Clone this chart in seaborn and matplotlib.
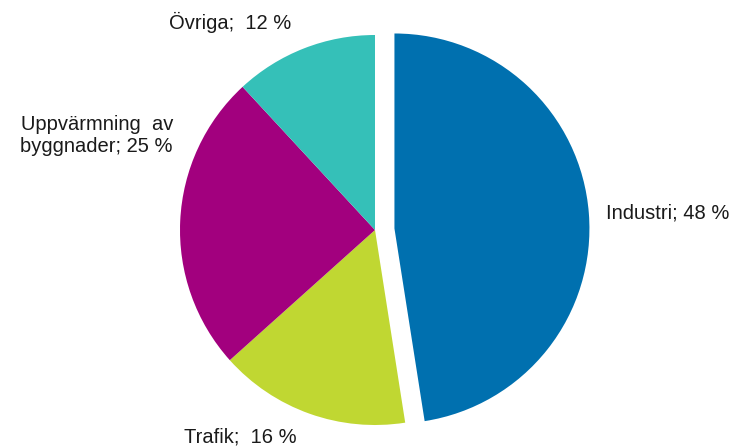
import matplotlib
matplotlib.use("Agg")
import matplotlib.pyplot as plt
import seaborn as sns

# ------------------------------------------
# Data
# ------------------------------------------

categories = ["Industri", "Trafik", "Uppvärmning  av\nbyggnader", "Övriga"]
shares = [48, 16, 25, 12]
colors = ["#0070AF", "#C0D732", "#A2007E", "#35C0B8"]
explode = [0.1, 0, 0, 0]

# gap after the semicolon, as in the original labels
label_gap = [" ", "  ", " ", "  "]

# label positions (pixel coords in the 740x448 image) and alignment
label_px = [(606, 213), (184, 437), (173, 136), (230, 22)]
label_ha = ["left", "left", "right", "center"]

# ------------------------------------------
# Plot
# ------------------------------------------

sns.set_theme(style="white")
plt.rcParams["font.family"] = ["Liberation Sans", "DejaVu Sans"]

fig = plt.figure(figsize=(7.4, 4.48), dpi=100)
ax = fig.add_axes([0, 0, 1, 1])

cx, cy, r = 375, 230, 195

ax.pie(
    shares,
    colors=colors,
    explode=explode,
    startangle=90,
    counterclock=False,
    wedgeprops=dict(linewidth=0)
)

ax.set_xlim(-cx / r, (740 - cx) / r)
ax.set_ylim(-(448 - cy) / r, cy / r)
ax.axis("off")

for name, val, gap, (px, py), ha in zip(categories, shares, label_gap, label_px, label_ha):
    ax.text(
        (px - cx) / r,
        (cy - py) / r,
        f"{name};{gap}{val} %",
        ha=ha,
        va="center",
        multialignment=ha,
        fontsize=14.5,
        color="#1a1a1a"
    )

fig.savefig("out.png", dpi=100)
